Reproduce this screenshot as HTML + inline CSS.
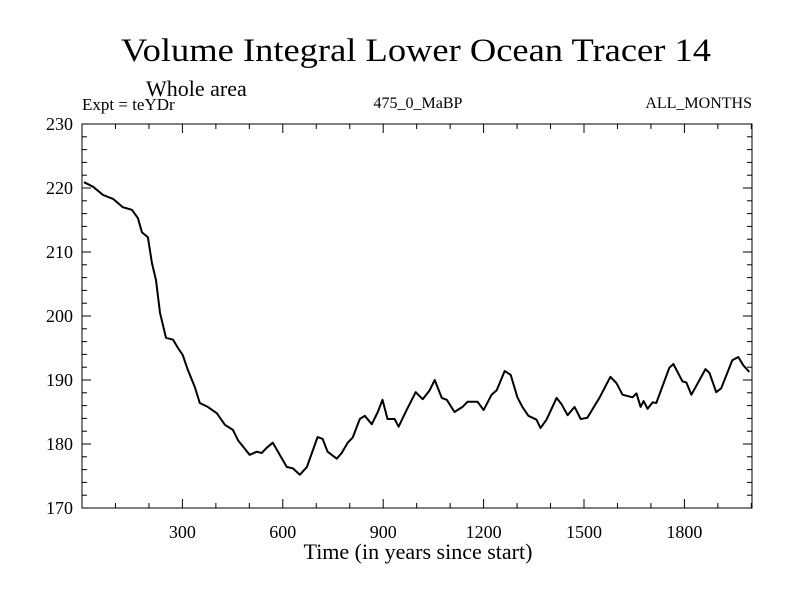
<!DOCTYPE html>
<html><head><meta charset="utf-8"><style>
body{margin:0;background:#fff}
svg text{font-family:"Liberation Serif",serif;fill:#000}
</style></head><body>
<svg id="chart" width="800" height="600" xmlns="http://www.w3.org/2000/svg">
<text x="416" y="61" font-size="33" text-anchor="middle" textLength="590" lengthAdjust="spacingAndGlyphs">Volume Integral Lower Ocean Tracer 14</text>
<text x="146" y="96" font-size="22">Whole area</text>
<text x="82" y="110" font-size="17">Expt = teYDr</text>
<text x="418" y="108" font-size="16" text-anchor="middle">475_0_MaBP</text>
<text x="752" y="108" font-size="16" text-anchor="end">ALL_MONTHS</text>
<rect x="82" y="124" width="670" height="384" fill="none" stroke="#000" stroke-width="1"/>
<g id="ticks"></g>
<path id="line" fill="none" stroke="#000" stroke-width="2" stroke-linejoin="round"/>
<text x="418" y="559" font-size="22" text-anchor="middle">Time (in years since start)</text>
</svg>
<script>
const years=[6,33,63,93,122,149,167,179,197,209,221,233,251,272,287,301,316,337,352,376,403,427,451,466,501,522,537,552,570,591,612,630,651,672,704,719,734,761,776,794,809,830,845,866,884,898,913,934,946,970,997,1018,1039,1054,1075,1090,1113,1137,1152,1182,1200,1224,1239,1263,1281,1301,1316,1334,1358,1370,1388,1418,1433,1451,1472,1490,1510,1546,1579,1597,1615,1645,1657,1669,1678,1690,1705,1716,1755,1767,1794,1806,1821,1863,1875,1895,1910,1943,1961,1976,1994];
const values=[220.9,220.2,218.9,218.3,217.0,216.6,215.3,213.1,212.3,208.3,205.6,200.5,196.6,196.3,195.0,193.9,191.6,188.9,186.4,185.8,184.8,183.0,182.2,180.6,178.3,178.8,178.6,179.4,180.2,178.3,176.4,176.2,175.2,176.4,181.1,180.8,178.8,177.7,178.6,180.2,181.0,183.9,184.4,183.1,185.0,186.9,183.9,183.9,182.7,185.3,188.1,187.0,188.4,190.0,187.2,186.9,185.0,185.8,186.6,186.6,185.3,187.7,188.4,191.4,190.8,187.3,185.8,184.4,183.8,182.5,183.8,187.2,186.2,184.5,185.8,183.9,184.1,187.2,190.5,189.5,187.7,187.3,187.9,185.8,186.7,185.5,186.5,186.4,191.9,192.5,189.8,189.6,187.7,191.7,191.1,188.1,188.7,193.1,193.6,192.3,191.25];
const xTicks=[300,600,900,1200,1500,1800];
const yTicks=[170,180,190,200,210,220,230];
const X0=82,X1=752,Y0=508,Y1=124,xMin=0,xMax=2002,yMin=170,yMax=230;
const sx=v=>X0+(v-xMin)/(xMax-xMin)*(X1-X0);
const sy=v=>Y0-(v-yMin)/(yMax-yMin)*(Y0-Y1);
const NS="http://www.w3.org/2000/svg";
const svg=document.getElementById('chart');
const g=document.getElementById('ticks');
function ln(x1,y1,x2,y2){const l=document.createElementNS(NS,'line');l.setAttribute('x1',x1);l.setAttribute('y1',y1);l.setAttribute('x2',x2);l.setAttribute('y2',y2);l.setAttribute('stroke','#000');l.setAttribute('stroke-width','1');


g.appendChild(l);}
function tx(x,y,s,anchor,name){const t=document.createElementNS(NS,'text');t.setAttribute('x',x);t.setAttribute('y',y);t.setAttribute('font-size','18');t.setAttribute('text-anchor',anchor);t.textContent=s;


svg.appendChild(t);}
for(let v=100;v<xMax;v+=100){const x=sx(v);const maj=v%300===0;const L=maj?9:5;ln(x,Y0,x,Y0-L);ln(x,Y1,x,Y1+L);}
xTicks.forEach(v=>tx(sx(v),538,String(v),'middle','x-tick-label'));
for(let v=yMin;v<=yMax;v+=2){const y=sy(v);const maj=v%10===0;const L=maj?9:5;ln(X0,y,X0+L,y);ln(X1,y,X1-L,y);}
yTicks.forEach(v=>tx(X0-9,sy(v)+6,String(v),'end','y-tick-label'));
let d='';years.forEach((yr,i)=>{d+=(i?'L':'M')+sx(yr).toFixed(1)+','+sy(values[i]).toFixed(1);});
document.getElementById('line').setAttribute('d',d);
</script>
</body></html>
